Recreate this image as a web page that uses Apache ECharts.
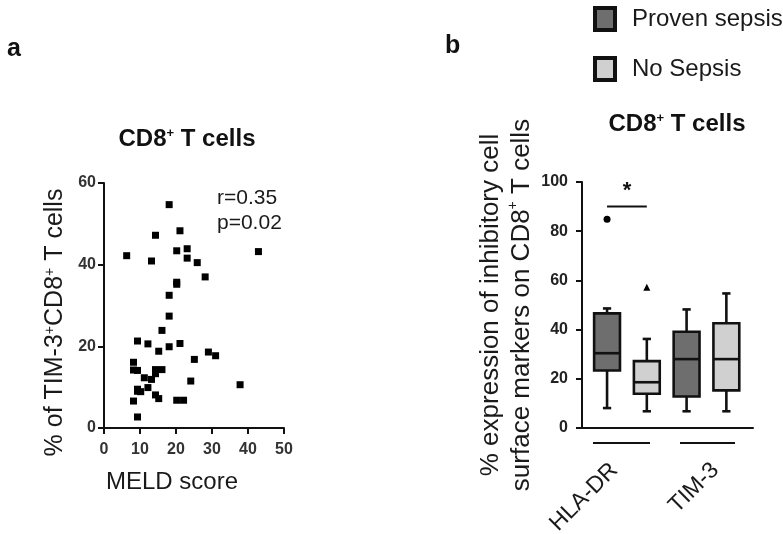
<!DOCTYPE html>
<html><head><meta charset="utf-8">
<script src="https://cdn.jsdelivr.net/npm/echarts@6/dist/echarts.min.js"></script>
<style>html,body{margin:0;padding:0;background:#fff}#c{width:783px;height:534px}</style>
</head><body><div id="c"></div>
<script>
// Panel a: scatter MELD score vs % TIM-3+CD8+ T cells
const meldScore = [18.1,21.1,14.3,20.2,23.1,23.1,25.9,6.3,13.2,42.9,28.1,20.2,20.2,18.1,18.1,16.1,9.3,12.2,18.1,21.1,15.2,29.0,31.0,8.2,25.1,8.2,9.3,14.3,16.1,11.2,13.2,14.3,24.1,37.8,9.3,9.3,10.2,12.2,8.2,14.3,15.2,20.2,22.1,9.3];
const tim3Pct   = [54.7,48.3,47.2,43.4,43.9,41.6,40.5,42.2,40.9,43.2,37.0,35.7,35.2,32.5,27.4,23.9,21.3,20.6,19.9,20.7,18.8,18.6,17.7,16.1,16.8,14.2,14.1,14.3,14.3,12.3,11.9,13.3,11.5,10.6,9.5,9.0,8.9,9.9,6.6,8.1,7.2,6.8,6.8,2.7];
const scatterXTicks = [0,10,20,30,40,50];
const scatterYTicks = [0,20,40,60];
// Panel b: box plots [min, Q1, median, Q3, max]
const markers = ['HLA-DR','TIM-3'];
const provenSepsis = [[8.1,23.4,30.4,46.6,48.6],[6.8,12.8,28.0,39.1,48.2]];
const noSepsis     = [[6.8,13.9,18.6,27.2,36.2],[6.8,15.3,28.0,42.6,54.7]];
const provenOutliers = [84.9];
const noSepsisOutliers = [57.2];
const boxYTicks = [0,20,40,60,80,100];
const boxPositions = [[0.63,2.63],[1.63,3.63]]; // [proven],[no sepsis] slot positions

const chart = echarts.init(document.getElementById('c'));
const FONT = 'Liberation Sans, Arial, sans-serif';

function boxData(arr, pos){ return arr.map((b,i)=>[pos[i]].concat(b)); }

function renderBox(params, api){
  const x = api.value(0);
  const mn = api.coord([x, api.value(1)]);
  const q1 = api.coord([x, api.value(2)]);
  const md = api.coord([x, api.value(3)]);
  const q3 = api.coord([x, api.value(4)]);
  const mx = api.coord([x, api.value(5)]);
  const w = api.size([0.65, 0])[0];
  const cap = w * 0.32;
  const cx = mn[0];
  const ls = {stroke:'#111', lineWidth:2.6};
  return {type:'group', children:[
    {type:'line', shape:{x1:cx,y1:mx[1],x2:cx,y2:q3[1]}, style:ls},
    {type:'line', shape:{x1:cx,y1:q1[1],x2:cx,y2:mn[1]}, style:ls},
    {type:'line', shape:{x1:cx-cap/2,y1:mx[1],x2:cx+cap/2,y2:mx[1]}, style:ls},
    {type:'line', shape:{x1:cx-cap/2,y1:mn[1],x2:cx+cap/2,y2:mn[1]}, style:ls},
    {type:'rect', shape:{x:cx-w/2,y:q3[1],width:w,height:q1[1]-q3[1]}, style:{fill:api.visual('color'), stroke:'#111', lineWidth:2.6}},
    {type:'line', shape:{x1:cx-w/2,y1:md[1],x2:cx+w/2,y2:md[1]}, style:ls}
  ]};
}

const axisLine = {show:true, lineStyle:{color:'#111', width:2}};
const axisTick = {show:true, length:6, lineStyle:{color:'#111', width:2}};
const titleRich = {b:{fontSize:24,fontWeight:'bold',color:'#111',fontFamily:FONT}, s:{fontSize:13,fontWeight:'bold',color:'#111',verticalAlign:'top',fontFamily:FONT}};

chart.setOption({
  animation:false,
  backgroundColor:'#fff',
  textStyle:{fontFamily:FONT},
  title:[
    {text:'a', left:7, top:37, padding:0, textStyle:{fontSize:25, fontWeight:'bold', color:'#111', fontFamily:FONT}},
    {text:'b', left:445, top:34, padding:0, textStyle:{fontSize:25, fontWeight:'bold', color:'#111', fontFamily:FONT}},
    {text:'{b|CD8}{s|+}{b| T cells}', left:187, top:127, padding:0, textAlign:'center', textStyle:{rich:titleRich}},
    {text:'{b|CD8}{s|+}{b| T cells}', left:677, top:112, padding:0, textAlign:'center', textStyle:{rich:titleRich}}
  ],
  legend:{
    orient:'vertical', left:593, top:6, padding:0, itemWidth:20, itemHeight:22, itemGap:24, icon:'rect',
    data:['Proven sepsis','No Sepsis'],
    itemStyle:{borderColor:'#111', borderWidth:4},
    textStyle:{fontSize:24, lineHeight:26, color:'#1a1a1a', fontFamily:FONT, padding:[0,0,0,12]}
  },
  grid:[
    {left:104, top:183, width:180, height:245},
    {left:582, top:182, width:171, height:246}
  ],
  xAxis:[
    {gridIndex:0, type:'value', min:0, max:50, interval:10, splitLine:{show:false},
     axisLine:axisLine, axisTick:axisTick,
     axisLabel:{fontSize:16, fontWeight:'bold', color:'#333', margin:14},
     name:'MELD score', nameLocation:'middle', nameGap:42,
     nameTextStyle:{fontSize:24, color:'#1a1a1a', padding:[0,44,0,0]}},
    {gridIndex:1, type:'value', min:0, max:4.3, splitLine:{show:false},
     axisLine:axisLine, axisTick:{show:false}, axisLabel:{show:false}}
  ],
  yAxis:[
    {gridIndex:0, type:'value', min:0, max:60, interval:20, splitLine:{show:false},
     axisLine:axisLine, axisTick:axisTick,
     axisLabel:{fontSize:16, fontWeight:'bold', color:'#333', margin:8},
     name:'{n|% of TIM-3}{s|+}{n|CD8}{s|+}{n| T cells}', nameLocation:'middle', nameGap:36, nameRotate:90,
     nameTextStyle:{padding:[0,34,0,0], rich:{n:{fontSize:25,color:'#1a1a1a',fontFamily:FONT}, s:{fontSize:14,color:'#1a1a1a',verticalAlign:'top',fontFamily:FONT}}}},
    {gridIndex:1, type:'value', min:0, max:100, interval:20, splitLine:{show:false},
     axisLine:axisLine, axisTick:axisTick,
     axisLabel:{fontSize:16, fontWeight:'bold', color:'#222', margin:14},
     name:'{n|% expression of inhibitory cell}\n{n|surface markers on CD8}{s|+}{n| T cells}', nameLocation:'middle', nameGap:44, nameRotate:90,
     nameTextStyle:{lineHeight:31, rich:{n:{fontSize:26,color:'#1a1a1a',lineHeight:31,fontFamily:FONT}, s:{fontSize:14,color:'#1a1a1a',verticalAlign:'top',lineHeight:31,fontFamily:FONT}}}}
  ],
  series:[
    {type:'scatter', xAxisIndex:0, yAxisIndex:0, symbol:'rect', symbolSize:7,
     itemStyle:{color:'#000', opacity:1}, data:meldScore.map((x,i)=>[x, tim3Pct[i]])},
    {name:'Proven sepsis', type:'custom', xAxisIndex:1, yAxisIndex:1, renderItem:renderBox,
     itemStyle:{color:'#6e6e6e'}, encode:{x:0, y:[1,2,3,4,5]}, data:boxData(provenSepsis, boxPositions[0])},
    {name:'No Sepsis', type:'custom', xAxisIndex:1, yAxisIndex:1, renderItem:renderBox,
     itemStyle:{color:'#d0d0d0'}, encode:{x:0, y:[1,2,3,4,5]}, data:boxData(noSepsis, boxPositions[1])},
    {type:'scatter', xAxisIndex:1, yAxisIndex:1, symbol:'circle', symbolSize:7, itemStyle:{color:'#000', opacity:1},
     data:provenOutliers.map(v=>[boxPositions[0][0], v])},
    {type:'scatter', xAxisIndex:1, yAxisIndex:1, symbol:'triangle', symbolSize:7, itemStyle:{color:'#000', opacity:1},
     data:noSepsisOutliers.map(v=>[boxPositions[1][0], v])},
    {type:'line', xAxisIndex:1, yAxisIndex:1, symbol:'none', lineStyle:{color:'#111', width:2},
     data:[[boxPositions[0][0],90],[boxPositions[1][0],90]],
     markPoint:{symbol:'circle', symbolSize:0, data:[{coord:[(boxPositions[0][0]+boxPositions[1][0])/2, 90],
       label:{show:true, formatter:'*', fontSize:22, fontWeight:'bold', color:'#111', offset:[0,-16]}}]}}
  ],
  graphic:[
    {type:'text', left:217, top:186, style:{text:'r=0.35\np=0.02', lineHeight:25, fill:'#1a1a1a', font:'21px '+FONT}},
    {type:'line', shape:{x1:593,y1:443,x2:650,y2:443}, style:{stroke:'#111', lineWidth:2}},
    {type:'line', shape:{x1:680,y1:443,x2:735,y2:443}, style:{stroke:'#111', lineWidth:2}},
    {type:'text', x:584, y:497, rotation:Math.PI/4, style:{text:markers[0], font:'23px '+FONT, fill:'#1a1a1a', align:'center', verticalAlign:'middle'}},
    {type:'text', x:694, y:488, rotation:Math.PI/4, style:{text:markers[1], font:'23px '+FONT, fill:'#1a1a1a', align:'center', verticalAlign:'middle'}}
  ]
});
</script></body></html>
